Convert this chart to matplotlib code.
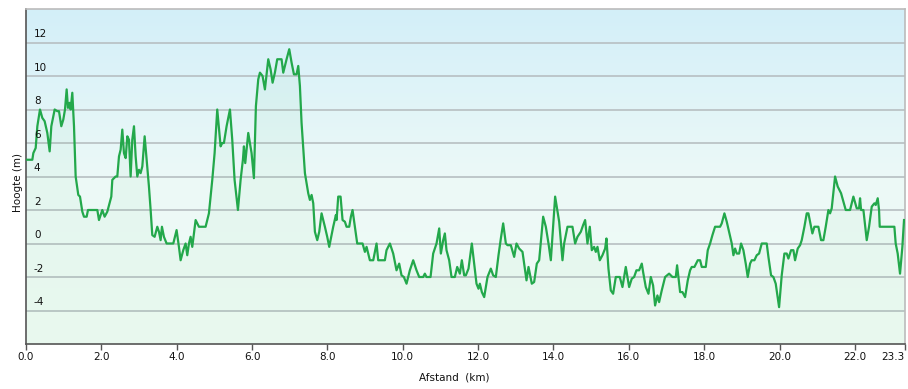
import numpy as np
import matplotlib
matplotlib.use("Agg")
import matplotlib.pyplot as plt
from matplotlib.colors import LinearSegmentedColormap
from matplotlib.transforms import blended_transform_factory

### hoogteprofiel: afstand (km) en hoogte (m)
afstand = [
    0.0, 0.035, 0.168, 0.195, 0.257, 0.301, 0.371, 0.433, 0.495, 0.566, 0.628,
    0.672, 0.761, 0.831, 0.876, 0.937, 0.990, 1.035, 1.079, 1.114, 1.159,
    1.185, 1.229, 1.274, 1.318, 1.388, 1.433, 1.495, 1.539, 1.610, 1.645,
    1.848, 1.893, 1.937, 2.025, 2.087, 2.158, 2.264, 2.291, 2.379, 2.423,
    2.468, 2.512, 2.556, 2.600, 2.645, 2.689, 2.733, 2.777, 2.821, 2.866,
    2.910, 2.954, 2.998, 3.042, 3.087, 3.149, 3.219, 3.263, 3.308, 3.352,
    3.414, 3.485, 3.529, 3.573, 3.608, 3.661, 3.732, 3.909, 3.997, 4.059,
    4.104, 4.174, 4.236, 4.280, 4.325, 4.369, 4.413, 4.502, 4.590, 4.767,
    4.855, 4.944, 5.006, 5.076, 5.165, 5.209, 5.253, 5.324, 5.413, 5.474,
    5.536, 5.625, 5.696, 5.757, 5.784, 5.819, 5.899, 5.987, 6.049, 6.102,
    6.164, 6.209, 6.279, 6.341, 6.430, 6.492, 6.545, 6.606, 6.668, 6.783,
    6.828, 6.916, 6.987, 7.049, 7.111, 7.181, 7.226, 7.270, 7.314, 7.403,
    7.491, 7.535, 7.580, 7.624, 7.668, 7.730, 7.783, 7.845, 7.933, 7.995,
    8.048, 8.110, 8.154, 8.225, 8.243, 8.287, 8.349, 8.402, 8.464, 8.508,
    8.579, 8.623, 8.667, 8.729, 8.791, 8.933, 8.995, 9.039, 9.127, 9.216,
    9.304, 9.348, 9.525, 9.569, 9.658, 9.746, 9.834, 9.905, 9.967, 10.029,
    10.100, 10.188, 10.277, 10.365, 10.436, 10.542, 10.586, 10.630, 10.737,
    10.807, 10.896, 10.967, 11.011, 11.073, 11.117, 11.161, 11.232, 11.294,
    11.382, 11.445, 11.515, 11.568, 11.630, 11.674, 11.745, 11.833, 11.895,
    11.957, 12.010, 12.046, 12.099, 12.161, 12.249, 12.337, 12.399, 12.470,
    12.541, 12.603, 12.665, 12.736, 12.780, 12.868, 12.957, 13.018, 13.089,
    13.178, 13.284, 13.337, 13.425, 13.487, 13.558, 13.620, 13.726, 13.797,
    13.868, 13.930, 14.044, 14.151, 14.239, 14.283, 14.372, 14.504, 14.575,
    14.637, 14.726, 14.787, 14.840, 14.902, 14.964, 15.017, 15.079, 15.123,
    15.168, 15.229, 15.300, 15.371, 15.406, 15.459, 15.521, 15.583, 15.654,
    15.760, 15.831, 15.919, 16.008, 16.078, 16.140, 16.202, 16.273, 16.344,
    16.379, 16.450, 16.521, 16.583, 16.644, 16.697, 16.759, 16.804, 16.874,
    16.963, 17.069, 17.158, 17.246, 17.281, 17.317, 17.361, 17.423, 17.493,
    17.564, 17.626, 17.670, 17.741, 17.830, 17.892, 17.936, 18.042, 18.095,
    18.157, 18.219, 18.289, 18.422, 18.466, 18.537, 18.599, 18.661, 18.732,
    18.776, 18.820, 18.865, 18.927, 18.979, 19.041, 19.103, 19.156, 19.218,
    19.262, 19.333, 19.395, 19.457, 19.528, 19.660, 19.705, 19.775, 19.837,
    19.899, 19.988, 20.058, 20.129, 20.191, 20.235, 20.306, 20.368, 20.412,
    20.483, 20.545, 20.589, 20.660, 20.722, 20.766, 20.837, 20.872, 20.925,
    21.031, 21.102, 21.164, 21.226, 21.297, 21.341, 21.385, 21.474, 21.544,
    21.633, 21.695, 21.757, 21.872, 21.960, 22.049, 22.111, 22.137, 22.164,
    22.226, 22.314, 22.376, 22.447, 22.518, 22.553, 22.606, 22.641, 22.659,
    23.048, 23.083, 23.136, 23.198, 23.260, 23.304,
]
hoogte = [
    5.0, 5.0, 5.0, 5.4, 5.7, 7.0, 8.0, 7.5, 7.3, 6.6, 5.5,
    7.0, 8.0, 7.9, 7.9, 7.0, 7.4, 8.0, 9.2, 8.1, 8.4,
    8.0, 9.0, 7.0, 4.0, 2.9, 2.8, 1.9, 1.6, 1.6, 2.0,
    2.0, 2.0, 1.4, 2.0, 1.6, 1.9, 2.8, 3.8, 4.0, 4.0,
    5.2, 5.6, 6.8, 5.4, 5.1, 6.4, 6.2, 4.0, 6.2, 7.0,
    5.2, 4.0, 4.4, 4.2, 4.6, 6.4, 4.6, 3.4, 2.0, 0.5,
    0.4, 1.0, 0.7, 0.2, 1.0, 0.4, 0.0, 0.0, 0.8, -0.2,
    -1.0, -0.4, 0.0, -0.7, 0.0, 0.4, -0.2, 1.4, 1.0, 1.0,
    1.8, 3.8, 5.4, 8.0, 5.8, 6.0, 6.0, 7.0, 8.0, 6.2,
    3.8, 2.0, 3.8, 5.0, 5.8, 4.8, 6.6, 5.4, 3.9, 8.2,
    9.8, 10.2, 10.0, 9.2, 11.0, 10.4, 9.6, 10.2, 11.0, 11.0,
    10.2, 11.0, 11.6, 10.8, 10.1, 10.1, 10.6, 9.4, 7.2, 4.2,
    3.0, 2.6, 2.9, 2.4, 0.7, 0.2, 0.7, 1.8, 1.0, 0.4,
    -0.2, 0.5, 1.0, 1.7, 1.4, 2.8, 2.8, 1.4, 1.3, 1.0,
    1.0, 1.6, 2.0, 1.0, 0.0, 0.0, -0.5, -0.2, -1.0, -1.0,
    0.0, -1.0, -1.0, -0.4, 0.0, -0.6, -1.6, -1.2, -1.9, -2.0,
    -2.4, -1.6, -1.0, -1.6, -2.0, -2.0, -1.8, -2.0, -2.0,
    -0.6, 0.0, 0.9, -0.6, 0.2, 0.6, -0.4, -1.0, -2.0,
    -2.0, -1.4, -1.8, -1.0, -1.9, -1.9, -1.5, 0.0, -1.2,
    -2.4, -2.7, -2.4, -2.9, -3.2, -2.0, -1.5, -1.9, -2.0,
    -0.7, 0.3, 1.2, 0.0, -0.1, -0.1, -0.8, 0.0, -0.3,
    -0.5, -2.2, -1.4, -2.4, -2.3, -1.2, -1.0, 1.6, 1.0,
    0.0, -1.0, 2.8, 1.3, -1.0, 0.0, 1.0, 1.0, 0.0,
    0.4, 0.7, 1.1, 1.4, 0.0, 1.0, -0.4, -0.2, -0.5,
    -0.2, -1.0, -0.7, -0.3, 0.3, -1.5, -2.8, -3.0, -2.0,
    -2.0, -2.6, -1.4, -2.6, -2.1, -2.0, -1.6, -1.6, -1.2,
    -1.7, -2.6, -3.0, -2.0, -2.5, -3.7, -3.1, -3.5, -2.8,
    -2.0, -1.8, -2.0, -2.0, -1.3, -2.0, -2.9, -2.9, -3.2,
    -2.2, -1.6, -1.4, -1.4, -1.0, -1.0, -1.4, -1.4, -0.4,
    0.0, 0.5, 1.0, 1.0, 1.2, 1.8, 1.3, 0.7, 0.0,
    -0.7, -0.3, -0.6, -0.6, 0.0, -0.4, -1.2, -2.0, -1.2,
    -1.0, -1.0, -0.7, -0.6, 0.0, 0.0, -0.8, -1.9, -2.0,
    -2.4, -3.8, -1.9, -0.6, -0.6, -0.9, -0.4, -0.4, -1.0,
    -0.3, -0.1, 0.2, 1.0, 1.8, 1.8, 1.0, 0.6, 1.0,
    1.0, 0.2, 0.2, 1.0, 2.0, 1.8, 2.1, 4.0, 3.4,
    3.0, 2.5, 2.0, 2.0, 2.8, 2.1, 2.1, 2.7, 2.0,
    2.0, 0.2, 1.0, 2.2, 2.4, 2.3, 2.7, 2.0, 1.0,
    1.0, 0.0, -0.6, -1.8, -0.2, 1.4,
]

x_ticks = [0, 2, 4, 6, 8, 10, 12, 14, 16, 18, 20, 22, 23.33]
x_labels = ['0.0', '2.0', '4.0', '6.0', '8.0', '10.0', '12.0', '14.0',
            '16.0', '18.0', '20.0', '22.0', '23.3']
y_ticks = [-4, -2, 0, 2, 4, 6, 8, 10, 12]

plt.rcParams['font.family'] = ['DejaVu Sans']

fig = plt.figure(figsize=(9.08, 3.89), dpi=100)
ax = fig.add_axes([26 / 908, 45 / 389, 879 / 908, 335 / 389])
ax.set_xlim(0, 23.33)
ax.set_ylim(-6, 14)

# achtergrond: verloop van lichtblauw (boven) naar lichtgroen (onder)
bg = LinearSegmentedColormap.from_list('bg', ['#f1fcf5', '#ecf9f7', '#d3eff9'])
grad = np.linspace(0, 1, 256).reshape(-1, 1)
ax.imshow(grad, cmap=bg, aspect='auto', origin='lower',
          extent=[0, 1, 0, 1], transform=ax.transAxes, zorder=0)

for v in y_ticks:
    ax.axhline(v, color='#b7bfc2', lw=1.2, zorder=1)

ax.fill_between(afstand, hoogte, -6, color='#3cbf66', alpha=0.045, lw=0, zorder=2)
ax.plot(afstand, hoogte, color='#23a84b', lw=1.6, zorder=3)

# y-labels binnen de grafiek, net boven de rasterlijnen
trans = blended_transform_factory(ax.transAxes, ax.transData)
for v in y_ticks:
    ax.text(0.009, v + 0.2, str(v), transform=trans, fontsize=7.5,
            color='#111111', ha='left', va='bottom', zorder=4)
ax.set_yticks([])

ax.set_xticks(x_ticks)
ax.set_xticklabels(x_labels, fontsize=7.5, color='#111111')
ax.tick_params(axis='x', direction='out', length=4, width=1, color='#555555', pad=2)
ax.get_xticklabels()[-1].set_horizontalalignment('right')

for s in ['left', 'bottom']:
    ax.spines[s].set_color('#555555')
    ax.spines[s].set_linewidth(1.2)
for s in ['top', 'right']:
    ax.spines[s].set_color('#bbbbbb')
    ax.spines[s].set_linewidth(1.2)

fig.text(18 / 908, 0.5 + 12 / 389, 'Hoogte (m)', rotation=90, fontsize=7.5,
         color='#111111', ha='center', va='center')
fig.text(454 / 908, 1 - 377 / 389, 'Afstand  (km)', fontsize=7.5,
         color='#111111', ha='center', va='center')

fig.savefig('out.png', dpi=100)
